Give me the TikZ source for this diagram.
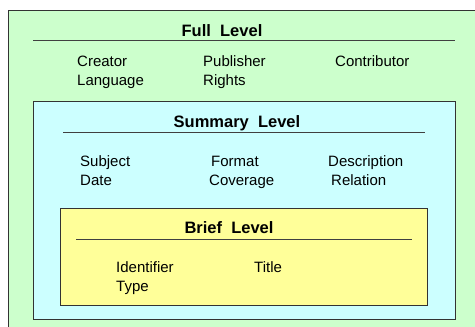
\documentclass[tikz,border=0pt]{standalone}
\usepackage{fontspec}
\setmainfont{Liberation Sans}
\definecolor{fullgreen}{HTML}{CCFFCC}
\definecolor{sumcyan}{HTML}{CCFFFF}
\definecolor{briefyellow}{HTML}{FFFF99}
\begin{document}
\begin{tikzpicture}[x=1pt,y=-1pt,
    levelbox/.style={draw=black!80,line width=.9pt},
    rule/.style={draw=black!75,line width=.9pt},
    heading/.style={anchor=base,inner sep=0pt,font=\fontsize{16.5}{19}\selectfont\bfseries},
    item/.style={anchor=base west,inner sep=0pt,font=\fontsize{15}{18}\selectfont}]
    \useasboundingbox (0,0) rectangle (475,327);
    \clip (0,0) rectangle (475,327);
    \fill[white] (0,0) rectangle (475,327);

    %% boxes
    \filldraw[levelbox,fill=fullgreen] (8,10) rectangle (490,340);
    \filldraw[levelbox,fill=sumcyan] (33,101) rectangle (455,319);
    \filldraw[levelbox,fill=briefyellow] (60,208) rectangle (427,305);

    %% full level
    \node (full) at (222,36) [heading] {Full\ \ Level};
    \coordinate (fullL) at (33,40);
    \coordinate (fullR) at (455,40);
    \draw[rule] (fullL) -- (fullR);
    \node (creator) at (77,66) [item] {Creator};
    \node (language) at (77,85) [item] {Language};
    \node (publisher) at (203,66) [item] {Publisher};
    \node (rights) at (203,85) [item] {Rights};
    \node (contributor) at (335,66) [item] {Contributor};

    %% summary level
    \node (summary) at (237,127) [heading] {Summary\ \ Level};
    \coordinate (sumL) at (63,132);
    \coordinate (sumR) at (425,132);
    \draw[rule] (sumL) -- (sumR);
    \node (subject) at (80,166) [item] {Subject};
    \node (date) at (80,185) [item] {Date};
    \node (format) at (211,166) [item] {Format};
    \node (coverage) at (209,185) [item] {Coverage};
    \node (description) at (328,166) [item] {Description};
    \node (relation) at (331,185) [item] {Relation};

    %% brief level
    \node (brief) at (229,233) [heading] {Brief\ \ Level};
    \coordinate (briefL) at (76,239);
    \coordinate (briefR) at (412,239);
    \draw[rule] (briefL) -- (briefR);
    \node (identifier) at (116,272) [item] {Identifier};
    \node (type) at (116,291) [item] {Type};
    \node (title) at (254,272) [item] {Title};
\end{tikzpicture}
\end{document}
